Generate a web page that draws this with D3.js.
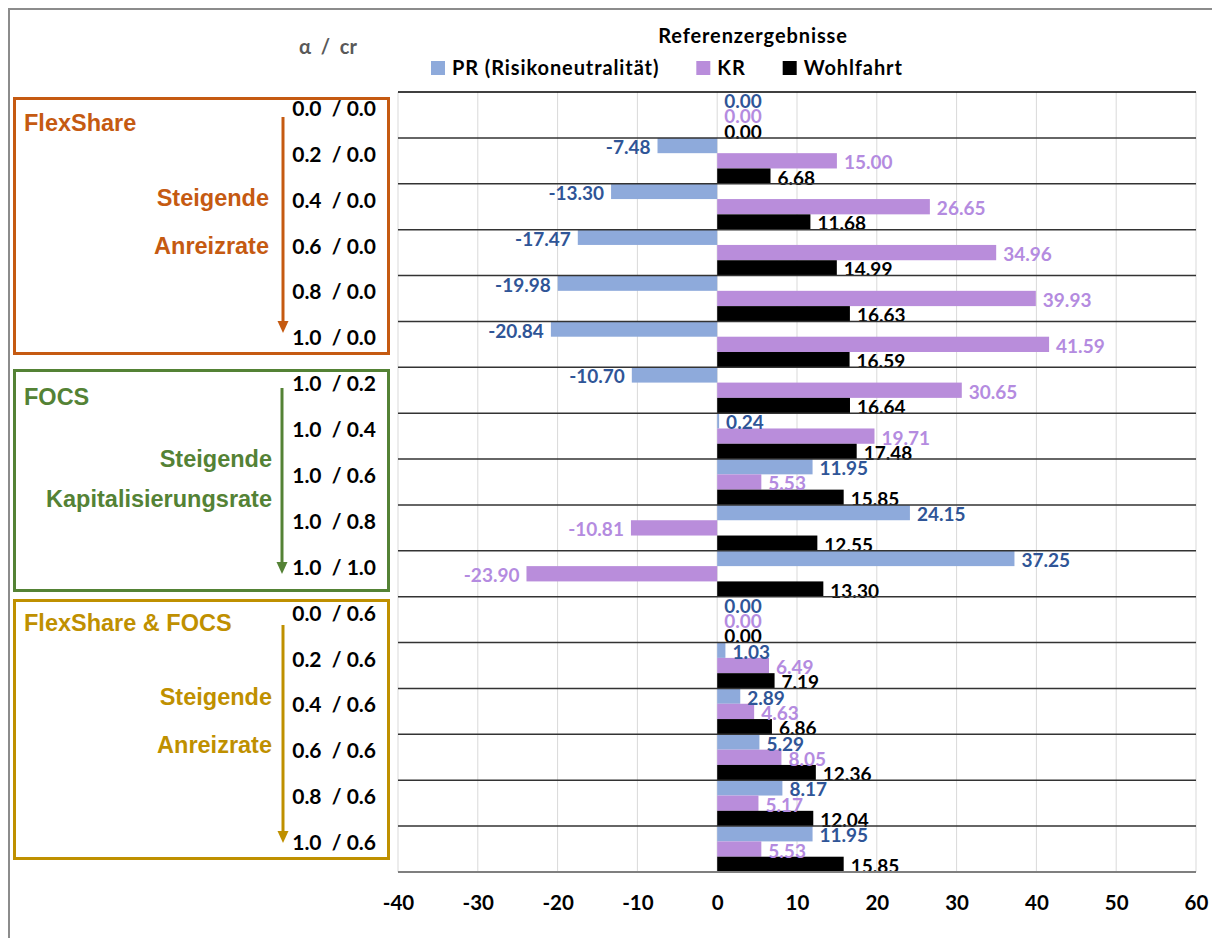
<!DOCTYPE html>
<html>
<head>
<meta charset="utf-8">
<script src="https://cdn.jsdelivr.net/npm/d3@7/dist/d3.min.js"></script>
<style>
  html, body { margin: 0; padding: 0; background: #fff; }
  svg { display: block; }
  .cal { font-family: Lato, "Open Sans", sans-serif; font-weight: 700; }
  .ari { font-family: "Liberation Sans", Arial, sans-serif; font-weight: 700; }
  .pre { white-space: pre; }
</style>
</head>
<body>
<svg id="chart" width="1212" height="938"></svg>
<script>
// Scenario labels (alpha / cr)
const categories = [
  "0.0  / 0.0", "0.2  / 0.0", "0.4  / 0.0", "0.6  / 0.0", "0.8  / 0.0", "1.0  / 0.0",
  "1.0  / 0.2", "1.0  / 0.4", "1.0  / 0.6", "1.0  / 0.8", "1.0  / 1.0",
  "0.0  / 0.6", "0.2  / 0.6", "0.4  / 0.6", "0.6  / 0.6", "0.8  / 0.6", "1.0  / 0.6"
];

const seriesNames = ["PR (Risikoneutralität)", "KR", "Wohlfahrt"];

const prValues = [0.00, -7.48, -13.30, -17.47, -19.98, -20.84, -10.70, 0.24, 11.95, 24.15, 37.25,
                  0.00, 1.03, 2.89, 5.29, 8.17, 11.95];
const krValues = [0.00, 15.00, 26.65, 34.96, 39.93, 41.59, 30.65, 19.71, 5.53, -10.81, -23.90,
                  0.00, 6.49, 4.63, 8.05, 5.17, 5.53];
const wohlfahrtValues = [0.00, 6.68, 11.68, 14.99, 16.63, 16.59, 16.64, 17.48, 15.85, 12.55, 13.30,
                         0.00, 7.19, 6.86, 12.36, 12.04, 15.85];

const xTicks = [-40, -30, -20, -10, 0, 10, 20, 30, 40, 50, 60];

// Scenario groups shown at the left
const groups = [
  { name: "FlexShare",        first: 0,  last: 5,  lines: ["Steigende", "Anreizrate"] },
  { name: "FOCS",             first: 6,  last: 10, lines: ["Steigende", "Kapitalisierungsrate"] },
  { name: "FlexShare & FOCS", first: 11, last: 16, lines: ["Steigende", "Anreizrate"] }
];

// ---- styling ----
const barColors   = ["#8EAADB", "#B98DDB", "#000000"];
const labelColors = ["#2F5597", "#B48BE0", "#000000"];
const groupColors = ["#C55A11", "#548235", "#BF9000"];

// plain hyphen for negatives
const loc = d3.formatLocale({ decimal: ".", thousands: ",", grouping: [3], currency: ["", ""], minus: "-" });
const fmt2 = loc.format(".2f");
const fmt0 = loc.format("d");

const svg = d3.select("#chart");
const W = 1212, H = 938;
const plot = { left: 398, right: 1196, top: 92, bottom: 872 };

const idx = d3.range(categories.length);
const x = d3.scaleLinear().domain([-40, 60]).range([plot.left, plot.right]);
const y = d3.scaleBand().domain(idx).range([plot.top, plot.bottom]).padding(0);
const sub = d3.scaleBand().domain(d3.range(3)).range([0, y.bandwidth()]).padding(0);

const rows = idx.map(i => ({
  i,
  vals: [prValues[i], krValues[i], wohlfahrtValues[i]]
}));

// outer chart frame
svg.append("path")
  .attr("d", `M9,${H} L9,9 L${W},9`)
  .attr("fill", "none").attr("stroke", "#8c8c8c").attr("stroke-width", 2);

// vertical gridlines
svg.append("g").selectAll("line").data(xTicks).join("line")
  .attr("x1", d => x(d)).attr("x2", d => x(d))
  .attr("y1", plot.top).attr("y2", plot.bottom)
  .attr("stroke", "#d9d9d9").attr("stroke-width", 1);

// bars
const rowG = svg.append("g").selectAll("g").data(rows).join("g")
  .attr("transform", d => `translate(0,${y(d.i)})`);

rowG.selectAll("rect").data(d => d.vals.map((v, k) => ({ v, k }))).join("rect")
  .attr("x", d => Math.min(x(0), x(d.v)))
  .attr("width", d => Math.abs(x(d.v) - x(0)))
  .attr("y", d => sub(d.k))
  .attr("height", sub.bandwidth())
  .attr("fill", d => barColors[d.k]);

// row separators (category boundaries)
svg.append("g").selectAll("line").data(idx).join("line")
  .attr("x1", plot.left).attr("x2", plot.right)
  .attr("y1", d => y(d)).attr("y2", d => y(d))
  .attr("stroke", (d, i) => i === 0 ? "#000" : "#333").attr("stroke-width", 1.5);

// value axis line
svg.append("line")
  .attr("x1", plot.left).attr("x2", plot.right)
  .attr("y1", plot.bottom).attr("y2", plot.bottom)
  .attr("stroke", "#7f7f7f").attr("stroke-width", 2);

// value labels
rowG.selectAll("text").data(d => d.vals.map((v, k) => ({ v, k }))).join("text")
  .attr("class", "cal")
  .attr("font-size", 19)
  .attr("fill", d => labelColors[d.k])
  .attr("x", d => d.v < 0 ? x(d.v) - 7 : x(d.v) + 7)
  .attr("y", d => sub(d.k) + sub.bandwidth() / 2 + 1)
  .attr("dominant-baseline", "central")
  .attr("text-anchor", d => d.v < 0 ? "end" : "start")
  .text(d => fmt2(d.v));

// x axis tick labels
const xAxis = d3.axisBottom(x).tickValues(xTicks).tickSize(0).tickPadding(0).tickFormat(fmt0);
const ax = svg.append("g").attr("transform", `translate(0,${plot.bottom})`).call(xAxis);
ax.select(".domain").remove();
ax.selectAll("text")
  .attr("class", "cal")
  .attr("font-size", 20.5)
  .attr("fill", "#000")
  .attr("dy", null)
  .attr("y", 38);

// category labels
svg.append("g").selectAll("text").data(idx).join("text")
  .attr("class", "cal pre")
  .attr("font-size", 21)
  .attr("x", 376)
  .attr("y", d => y(d) + y.bandwidth() / 2 + 1)
  .attr("text-anchor", "end")
  .attr("fill", "#000")
  .text(d => categories[d]);

// axis header
svg.append("text").attr("class", "cal pre")
  .attr("x", 328).attr("y", 54).attr("text-anchor", "middle")
  .attr("font-size", 20).attr("fill", "#595959")
  .text("α  /  cr");

// title
svg.append("text").attr("class", "cal")
  .attr("x", 753).attr("y", 43).attr("text-anchor", "middle")
  .attr("font-size", 20).attr("letter-spacing", 0.9).attr("fill", "#000")
  .text("Referenzergebnisse");

// legend
let lx = 431;
seriesNames.forEach((name, k) => {
  svg.append("rect").attr("x", lx).attr("y", 61).attr("width", 14).attr("height", 14)
    .attr("fill", barColors[k]);
  const t = svg.append("text").attr("class", "cal")
    .attr("x", lx + 21).attr("y", 75).attr("font-size", 20).attr("letter-spacing", 0.9)
    .attr("fill", "#000")
    .text(name);
  lx += 21 + t.node().getComputedTextLength() + 37;
});

// scenario group boxes with arrows
const boxGeom = [
  { top: 98.5,  bottom: 353.5, arrowX: 283, arrowTop: 117, arrowTip: 333, textRight: 269,
    nameY: 131, lineY: [206, 254] },
  { top: 370.5, bottom: 590.5, arrowX: 282, arrowTop: 388, arrowTip: 574, textRight: 272,
    nameY: 405, lineY: [467, 507] },
  { top: 600.5, bottom: 858.5, arrowX: 283, arrowTop: 625, arrowTip: 843, textRight: 272,
    nameY: 631, lineY: [705, 753] }
];

groups.forEach((g, i) => {
  const b = boxGeom[i], col = groupColors[i];
  const gg = svg.append("g");
  gg.append("rect")
    .attr("x", 14.5).attr("y", b.top).attr("width", 374).attr("height", b.bottom - b.top)
    .attr("fill", "none").attr("stroke", col).attr("stroke-width", 3);
  gg.append("line")
    .attr("x1", b.arrowX).attr("x2", b.arrowX)
    .attr("y1", b.arrowTop).attr("y2", b.arrowTip - 10)
    .attr("stroke", col).attr("stroke-width", 3);
  gg.append("path")
    .attr("d", `M${b.arrowX - 5.5},${b.arrowTip - 12} L${b.arrowX + 5.5},${b.arrowTip - 12} L${b.arrowX},${b.arrowTip} Z`)
    .attr("fill", col);
  gg.append("text").attr("class", "ari")
    .attr("x", 24).attr("y", b.nameY).attr("font-size", 23.5).attr("fill", col)
    .text(g.name);
  g.lines.forEach((ln, j) => {
    gg.append("text").attr("class", "ari")
      .attr("x", b.textRight).attr("y", b.lineY[j]).attr("text-anchor", "end")
      .attr("font-size", 23.5).attr("fill", col)
      .text(ln);
  });
});
</script>
</body>
</html>
